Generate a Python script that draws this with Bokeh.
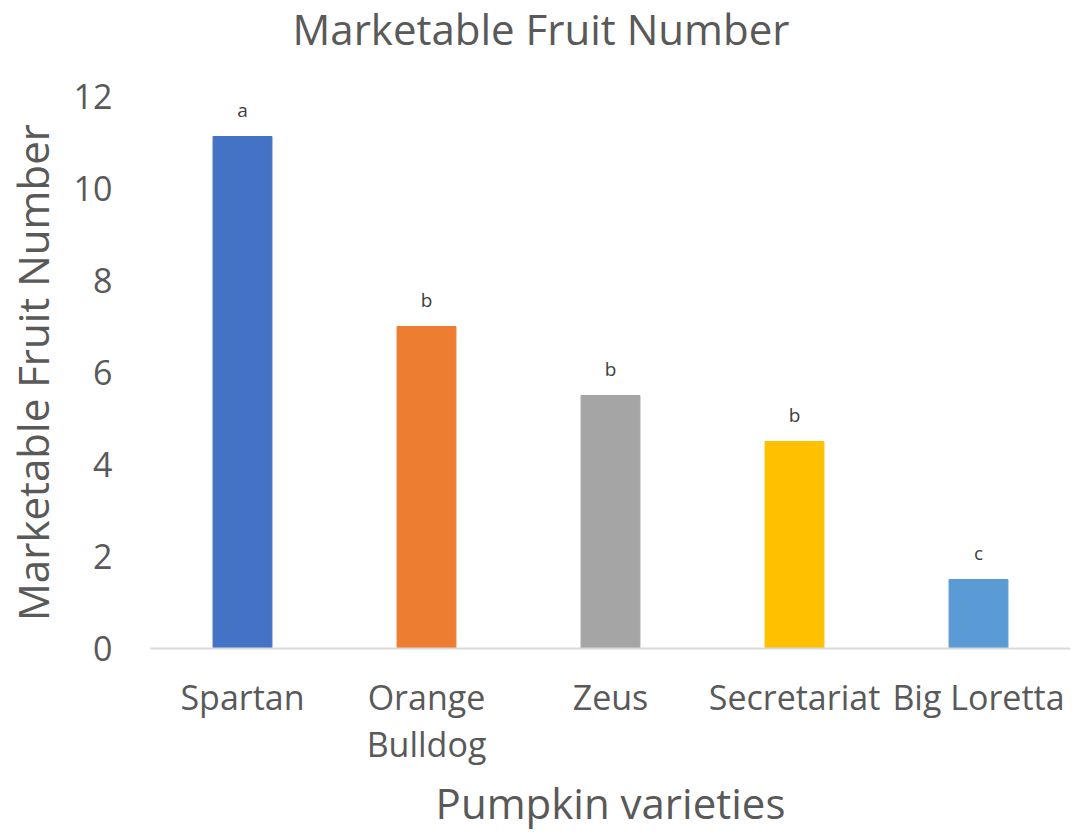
from bokeh.plotting import figure
from bokeh.models import ColumnDataSource, FixedTicker, Div, Range1d
from bokeh.layouts import column
from bokeh.core.properties import value
from bokeh.embed import file_html
from bokeh.resources import INLINE

varieties = ["Spartan", "Orange\nBulldog", "Zeus", "Secretariat", "Big Loretta"]
fruit_number = [11.13, 7.0, 5.5, 4.5, 1.5]
letters = ["a", "b", "b", "b", "c"]
colors = ["#4472C4", "#ED7D31", "#A5A5A5", "#FFC000", "#5B9BD5"]

FONT = "Open Sans"
TXT = "#595959"

src = ColumnDataSource(dict(x=varieties, y=fruit_number, lab=letters, c=colors))

title = Div(text="Marketable Fruit Number", width=1064, height=60,
            styles={"font-family": "'Open Sans'", "font-size": "42px", "color": TXT,
                    "line-height": "58px", "text-align": "center", "text-indent": "18px",
                    "margin": "0", "padding": "0"})

p = figure(x_range=varieties, y_range=Range1d(0, 12), width=1071, height=774,
           output_backend="svg", toolbar_location=None,
           min_border_left=142, min_border_right=1, min_border_top=36, min_border_bottom=186)
p.outline_line_color = None
p.grid.visible = False
p.x_range.range_padding = 0

p.vbar(x="x", top="y", width=0.32, color="c", source=src)
p.text(x="x", y="y", text="lab", source=src, y_offset=-14, text_align="center",
       text_baseline="bottom", text_font=value(FONT), text_font_size="19px", text_color="#404040")

p.yaxis.ticker = FixedTicker(ticks=[0, 2, 4, 6, 8, 10, 12])
p.yaxis.axis_line_color = None
p.yaxis.major_tick_line_color = None
p.yaxis.minor_tick_line_color = None
p.yaxis.major_label_text_font = FONT
p.yaxis.major_label_text_font_size = "34px"
p.yaxis.major_label_text_color = TXT
p.yaxis.major_label_standoff = 32
p.yaxis.axis_label = "Marketable Fruit Number"
p.yaxis.axis_label_text_font = FONT
p.yaxis.axis_label_text_font_size = "42px"
p.yaxis.axis_label_text_font_style = "normal"
p.yaxis.axis_label_text_color = TXT
p.yaxis.axis_label_standoff = 10

p.xaxis.axis_line_color = "#D9D9D9"
p.xaxis.axis_line_width = 2
p.xaxis.major_tick_line_color = None
p.xaxis.minor_tick_line_color = None
p.xaxis.major_label_text_font = FONT
p.xaxis.major_label_text_font_size = "34px"
p.xaxis.major_label_text_color = TXT
p.xaxis.major_label_text_line_height = 1.04
p.xaxis.major_label_standoff = 19
p.xaxis.axis_label = "Pumpkin varieties"
p.xaxis.axis_label_text_font = FONT
p.xaxis.axis_label_text_font_size = "42px"
p.xaxis.axis_label_text_font_style = "normal"
p.xaxis.axis_label_text_color = TXT
p.xaxis.axis_label_standoff = 4

layout = column(title, p, spacing=0)
open("out.html", "w").write(file_html(layout, INLINE))
